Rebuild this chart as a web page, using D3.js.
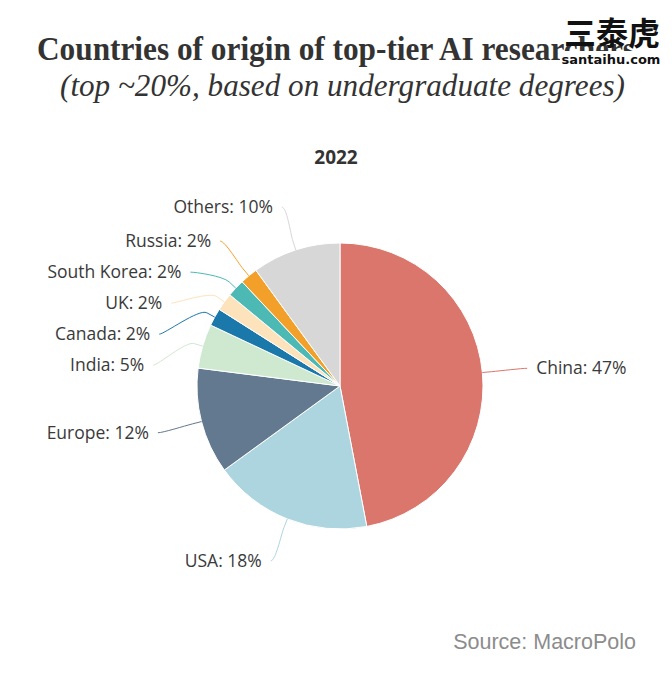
<!DOCTYPE html>
<html>
<head>
<meta charset="utf-8">
<script src="https://cdn.jsdelivr.net/npm/d3@7"></script>
<style>
  body { margin: 0; background: #fff; }
  svg { display: block; }
</style>
</head>
<body>
<div id="chart"></div>
<script>
// data, clockwise from 12 o'clock
const countries = ["China", "USA", "Europe", "India", "Canada", "UK", "South Korea", "Russia", "Others"];
const shares = [47, 18, 12, 5, 2, 2, 2, 2, 10];
const colors = ["#db766d", "#add5df", "#63798f", "#cfe9d0", "#1a78aa", "#fde3bc", "#4cb9b5", "#f3a02a", "#d7d7d7"];

const width = 672, height = 680;
const cx = 340, cy = 386, radius = 143, labelR = 188;

let svg = d3.select("#chart").append("svg")
    .attr("width", width)
    .attr("height", height);

// titles
svg.append("text")
    .attr("x", 37).attr("y", 60)
    .attr("textLength", 598)
    .attr("lengthAdjust", "spacingAndGlyphs")
    .style("font-family", "'Liberation Serif', 'Times New Roman', serif")
    .style("font-weight", "bold")
    .style("font-size", "33px")
    .attr("fill", "#333")
    .text("Countries of origin of top-tier AI researchers");

svg.append("text")
    .attr("x", 60).attr("y", 96)
    .attr("textLength", 565)
    .attr("lengthAdjust", "spacingAndGlyphs")
    .style("font-family", "'Liberation Serif', 'Times New Roman', serif")
    .style("font-style", "italic")
    .style("font-size", "31px")
    .attr("fill", "#333")
    .text("(top ~20%, based on undergraduate degrees)");

svg.append("text")
    .attr("x", 336).attr("y", 164)
    .attr("text-anchor", "middle")
    .style("font-family", "'Open Sans', sans-serif")
    .style("font-weight", "bold")
    .style("font-size", "19px")
    .attr("fill", "#333")
    .text("2022");

// pie
let pie = d3.pie().sort(null).value(d => d)(shares);
let arc = d3.arc().innerRadius(0).outerRadius(radius);

let g = svg.append("g").attr("transform", `translate(${cx},${cy})`);
g.selectAll("path")
    .data(pie)
    .enter()
    .append("path")
    .attr("d", arc)
    .attr("fill", (d, i) => colors[i])
    .attr("stroke", "#fff")
    .attr("stroke-width", 1);

// label layout (highcharts-ish: push overlapping labels down)
let labels = pie.map((d, i) => {
    let a = (d.startAngle + d.endAngle) / 2;
    return {
        i: i, a: a,
        left: a > Math.PI,
        y: -labelR * Math.cos(a)
    };
});
let gap = 31;
["left", "right"].forEach(side => {
    let list = labels.filter(l => (side === "left") === l.left).sort((p, q) => p.y - q.y);
    for (let k = 1; k < list.length; k++) {
        if (list[k].y < list[k - 1].y + gap) list[k].y = list[k - 1].y + gap;
    }
});

labels.forEach(l => {
    let dy = Math.max(-labelR, Math.min(labelR, l.y));
    let dx = Math.sqrt(labelR * labelR - dy * dy) * (l.left ? -1 : 1);
    l.x = dx;
    let touch = [radius * Math.sin(l.a), -radius * Math.cos(l.a)];
    let brk = [(radius + 9) * Math.sin(l.a), -(radius + 9) * Math.cos(l.a)];
    let path = d3.path();
    path.moveTo(l.x, l.y);
    path.bezierCurveTo(l.x + (l.left ? 5 : -5), l.y, 2 * brk[0] - touch[0], 2 * brk[1] - touch[1], brk[0], brk[1]);
    path.lineTo(touch[0], touch[1]);
    g.append("path")
        .attr("d", path.toString())
        .attr("fill", "none")
        .attr("stroke", colors[l.i])
        .attr("stroke-width", 1);
    g.append("text")
        .attr("x", l.x + (l.left ? -9 : 9))
        .attr("y", l.y)
        .attr("dy", "0.35em")
        .attr("text-anchor", l.left ? "end" : "start")
        .style("font-family", "'Open Sans', sans-serif")
        .style("font-size", "17.5px")
        .attr("fill", "#3a3a3a")
        .text(countries[l.i] + ": " + shares[l.i] + "%");
});

// source
svg.append("text")
    .attr("x", 636).attr("y", 649)
    .attr("text-anchor", "end")
    .style("font-family", "'Liberation Sans', Arial, sans-serif")
    .style("font-size", "21.5px")
    .attr("fill", "#8c8c8c")
    .text("Source: MacroPolo");

// watermark (sits on top of the title, as in the original image)
svg.append("rect")
    .attr("x", 560).attr("y", 51)
    .attr("width", 104).attr("height", 17)
    .attr("fill", "#fff");
svg.append("text")
    .attr("x", 612).attr("y", 45)
    .attr("text-anchor", "middle")
    .style("font-family", "'Noto Sans CJK SC', sans-serif")
    .style("font-weight", "bold")
    .style("font-size", "32px")
    .attr("fill", "#111")
    .text("三泰虎");
svg.append("text")
    .attr("x", 611).attr("y", 64)
    .attr("text-anchor", "middle")
    .style("font-family", "'DejaVu Sans', sans-serif")
    .style("font-weight", "bold")
    .style("font-size", "13px")
    .attr("fill", "#111")
    .text("santaihu.com");
</script>
</body>
</html>
